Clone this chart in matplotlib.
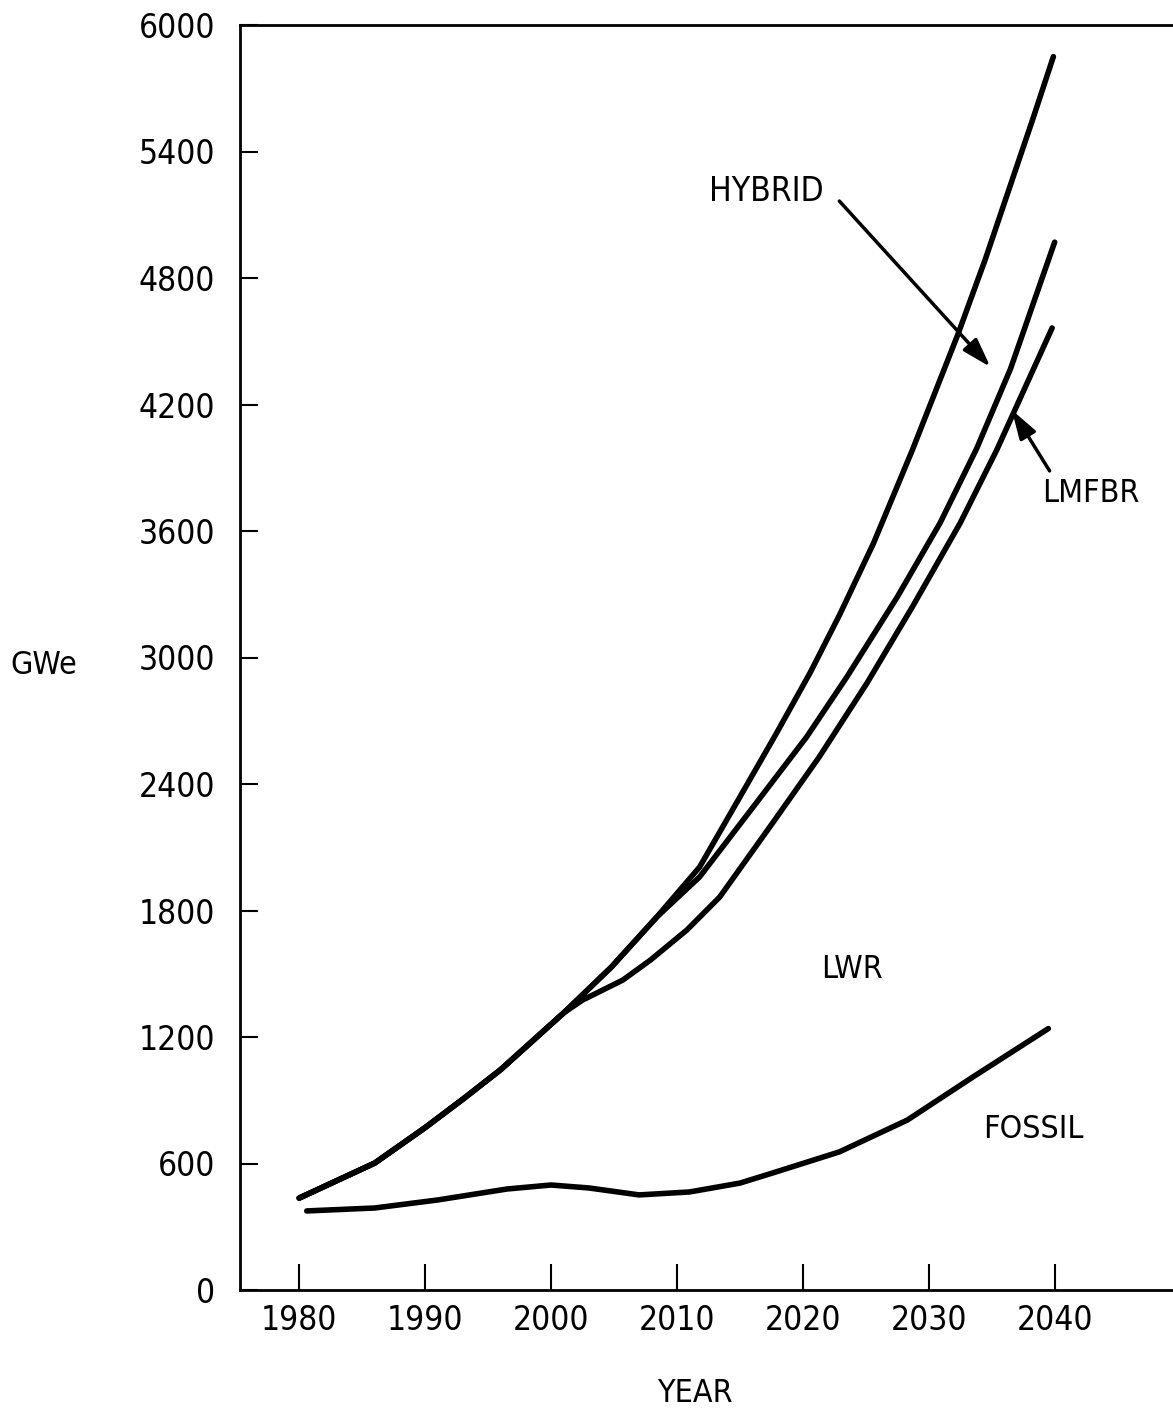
import matplotlib
matplotlib.use('Agg')
import matplotlib.pyplot as plt
from matplotlib import font_manager

# values (GWe by year)
top_years = [1980, 1986, 1990, 1993, 1996, 2001, 2004.8, 2008.4, 2011.8, 2015, 2017.9, 2020.6,
             2022.9, 2025.6, 2028.7, 2032.3, 2034.5, 2036.2, 2038.3, 2039.9]
top_gwe = [436, 602, 770, 905, 1045, 1314, 1532, 1769, 2006, 2338, 2640, 2930,
           3200, 3540, 3984, 4530, 4890, 5190, 5560, 5850]

mid_years = [1980, 1986, 1990, 1993, 1996, 2001, 2004.8, 2008.4, 2011.8, 2016.3, 2020.3, 2023.5,
             2027.5, 2030.9, 2033.8, 2036.5, 2040.0]
mid_gwe = [436, 602, 770, 905, 1045, 1314, 1532, 1769, 1959, 2310, 2623, 2908,
           3287, 3638, 3990, 4370, 4970]

low_years = [1980, 1986, 1990, 1993, 1996, 2001, 2002.5, 2005.7, 2007.9, 2010.8, 2013.4, 2017.6,
             2021.3, 2025.1, 2028.7, 2032.5, 2035.4, 2037.2, 2039.8]
low_gwe = [436, 602, 770, 905, 1045, 1314, 1375, 1470, 1565, 1708, 1864, 2215,
           2528, 2879, 3240, 3638, 3984, 4221, 4563]

fossil_years = [1980.6, 1986, 1991, 1996.5, 2000, 2003, 2007, 2011, 2015, 2017.6,
                2022.9, 2028.3, 2033.5, 2039.5]
fossil_gwe = [375, 389, 427, 479, 498, 484, 451, 465, 507, 555,
              655, 806, 1010, 1240]

year_ticks = [1980, 1990, 2000, 2010, 2020, 2030, 2040]
gwe_ticks = [0, 600, 1200, 1800, 2400, 3000, 3600, 4200, 4800, 5400, 6000]

# narrow face if the system has one, else plain DejaVu
names = {f.name for f in font_manager.fontManager.ttflist}
narrow = [n for n in ['Liberation Sans Narrow', 'DejaVu Sans Condensed'] if n in names]
plt.rcParams['font.family'] = narrow + ['DejaVu Sans']
plt.rcParams['font.stretch'] = 'condensed'
fs = 27 if narrow else 23

fig = plt.figure(figsize=(11.73, 14.13), dpi=100)
ax = fig.add_axes([240 / 1173, 1 - 1290 / 1413, 1 - 240 / 1173, (1290 - 25) / 1413])

for xs, ys in [(top_years, top_gwe), (mid_years, mid_gwe), (low_years, low_gwe),
               (fossil_years, fossil_gwe)]:
    ax.plot(xs, ys, color='black', lw=4, solid_capstyle='round', solid_joinstyle='round')

ax.set_xlim(1975.3, 2049.4)
ax.set_ylim(0, 6000)
ax.set_xticks(year_ticks)
ax.set_yticks(gwe_ticks)
ax.spines['right'].set_visible(False)
for s in ['left', 'top', 'bottom']:
    ax.spines[s].set_linewidth(2)
ax.tick_params(axis='y', direction='in', length=13, width=1.5, pad=18, labelsize=fs + 1)
ax.tick_params(axis='x', direction='in', length=19, width=1.5, pad=10, labelsize=fs + 1)

# region labels
ax.text(2017.1, 5208, 'HYBRID', fontsize=fs + 1, ha='center', va='center')
ax.text(2042.9, 3780, 'LMFBR', fontsize=fs, ha='center', va='center')
ax.text(2023.9, 1518, 'LWR', fontsize=fs, ha='center', va='center')
ax.text(2038.3, 759, 'FOSSIL', fontsize=fs, ha='center', va='center')

arrow = dict(arrowstyle='-|>,head_length=0.7,head_width=0.22', color='black', lw=2.5,
             mutation_scale=25, shrinkA=0, shrinkB=0)
ax.annotate('', xy=(2034.9, 4378), xytext=(2022.9, 5165), arrowprops=arrow)
ax.annotate('', xy=(2036.6, 4174), xytext=(2039.6, 3885), arrowprops=arrow)

fig.text(10 / 1173, 1 - 665 / 1413, 'GWe', fontsize=fs, ha='left', va='center')
fig.text(695 / 1173, 1 - 1393 / 1413, 'YEAR', fontsize=fs, ha='center', va='center')

fig.savefig('out.png', dpi=100)
